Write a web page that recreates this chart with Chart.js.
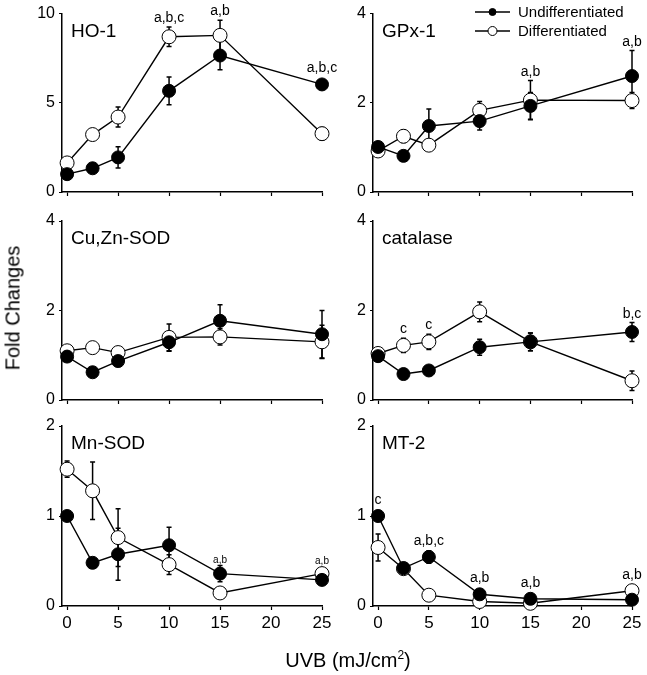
<!DOCTYPE html>
<html>
<head>
<meta charset="utf-8">
<script src="https://cdn.jsdelivr.net/npm/chart.js@4.4.0/dist/chart.umd.min.js"></script>
<style>
  body { margin: 0; background: #fff; width: 647px; height: 675px; position: relative; overflow: hidden;
         font-family: "Liberation Sans", Arial, sans-serif; }
  .pane { position: absolute; }
  #ylab { position: absolute; left: 13px; top: 308px; transform: translate(-50%, -50%) rotate(-90deg);
          font-size: 20px; white-space: nowrap; }
  #xlab { position: absolute; left: 348px; top: 660px; transform: translate(-50%, -50%);
          font-size: 20px; white-space: nowrap; }
  #xlab sup { font-size: 12px; }
</style>
</head>
<body>
<canvas id="c1" class="pane" width="345" height="215" style="left:0;top:0"></canvas>
<canvas id="c2" class="pane" width="317" height="215" style="left:330px;top:0"></canvas>
<canvas id="c3" class="pane" width="345" height="218" style="left:0;top:205px"></canvas>
<canvas id="c4" class="pane" width="317" height="218" style="left:330px;top:205px"></canvas>
<canvas id="c5" class="pane" width="345" height="265" style="left:0;top:410px"></canvas>
<canvas id="c6" class="pane" width="317" height="265" style="left:330px;top:410px"></canvas>
<div id="ylab">Fold Changes</div>
<div id="xlab">UVB (mJ/cm<sup>2</sup>)</div>
<script>
const doses = [0, 2.5, 5, 10, 15, 25];
const xTicks = [0, 5, 10, 15, 20, 25];

// HO-1
const ho1Und = [1.0, 1.33, 1.94, 5.67, 7.65, 6.03];
const ho1UndErr = [0.2, 0.25, 0.6, 0.78, 0.8, 0.25];
const ho1Dif = [1.63, 3.22, 4.2, 8.7, 8.78, 3.27];
const ho1DifErr = [0.1, 0.1, 0.56, 0.55, 0.85, 0.35];
const ho1Notes = ['', '', '', 'a,b,c', 'a,b', 'a,b,c'];

// GPx-1
const gpxUnd = [1.01, 0.81, 1.48, 1.59, 1.93, 2.6];
const gpxUndErr = [0.05, 0.04, 0.38, 0.2, 0.3, 0.57];
const gpxDif = [0.92, 1.25, 1.05, 1.83, 2.06, 2.05];
const gpxDifErr = [0.05, 0.14, 0.05, 0.2, 0.44, 0.18];
const gpxNotes = ['', '', '', '', 'a,b', 'a,b'];

// Cu,Zn-SOD
const cuUnd = [0.97, 0.62, 0.87, 1.29, 1.77, 1.47];
const cuUndErr = [0.05, 0.04, 0.05, 0.2, 0.36, 0.53];
const cuDif = [1.1, 1.17, 1.06, 1.4, 1.41, 1.3];
const cuDifErr = [0.05, 0.05, 0.05, 0.3, 0.18, 0.37];
const cuNotes = ['', '', '', '', '', ''];

// catalase
const catUnd = [0.98, 0.58, 0.66, 1.18, 1.3, 1.52];
const catUndErr = [0.05, 0.04, 0.04, 0.18, 0.2, 0.21];
const catDif = [1.04, 1.22, 1.3, 1.97, 1.3, 0.43];
const catDifErr = [0.1, 0.16, 0.17, 0.22, 0.2, 0.22];
const catNotes = ['', 'c', 'c', '', '', 'b,c'];

// Mn-SOD
const mnUnd = [1.0, 0.48, 0.575, 0.675, 0.36, 0.29];
const mnUndErr = [0.02, 0.05, 0.29, 0.2, 0.09, 0.03];
const mnDif = [1.52, 1.28, 0.76, 0.46, 0.145, 0.36];
const mnDifErr = [0.09, 0.32, 0.32, 0.11, 0.02, 0.03];
const mnNotes = ['', '', '', '', 'a,b', 'a,b'];

// MT-2
const mtUnd = [1.0, 0.42, 0.545, 0.13, 0.08, 0.07];
const mtUndErr = [0.06, 0.03, 0.07, 0.02, 0.02, 0.02];
const mtDif = [0.65, 0.415, 0.12, 0.05, 0.03, 0.17];
const mtDifErr = [0.15, 0.05, 0.02, 0.01, 0.01, 0.02];
const mtNotes = ['c', '', 'a,b,c', 'a,b', 'a,b', 'a,b'];

const FONT = '"Liberation Sans", Arial, sans-serif';
const pts = vals => vals.map((v, i) => ({ x: doses[i], y: v }));

// error bars, drawn under the lines and markers
const errorBars = {
  id: 'errorBars',
  beforeDatasetsDraw(chart) {
    const { ctx, scales: { x, y } } = chart;
    ctx.save();
    ctx.strokeStyle = '#000';
    ctx.lineWidth = 1.5;
    chart.data.datasets.forEach(ds => {
      ds.errors.forEach((e, i) => {
        const px = x.getPixelForValue(doses[i]);
        const top = y.getPixelForValue(ds.data[i].y + e);
        const bot = y.getPixelForValue(Math.max(0, ds.data[i].y - e));
        ctx.beginPath();
        ctx.moveTo(px, top); ctx.lineTo(px, bot);
        ctx.moveTo(px - 2.5, top); ctx.lineTo(px + 2.5, top);
        ctx.moveTo(px - 2.5, bot); ctx.lineTo(px + 2.5, bot);
        ctx.stroke();
      });
    });
    ctx.restore();
  }
};

// panel name, significance letters, legend
const decorations = {
  id: 'decorations',
  afterDatasetsDraw(chart, args, opts) {
    const { ctx, chartArea, scales: { x, y } } = chart;
    ctx.save();
    ctx.fillStyle = '#000';
    ctx.textBaseline = 'alphabetic';
    ctx.font = '19px ' + FONT;
    ctx.textAlign = 'left';
    ctx.fillText(opts.name, chartArea.left + 9, chartArea.top + 23);

    ctx.font = opts.noteSize + 'px ' + FONT;
    ctx.textAlign = 'center';
    opts.notes.forEach((n, i) => {
      if (!n) return;
      let top = Infinity;
      chart.data.datasets.forEach(ds => {
        const v = ds.data[i].y;
        top = Math.min(top, y.getPixelForValue(v + ds.errors[i]), y.getPixelForValue(v) - 7);
      });
      ctx.fillText(n, x.getPixelForValue(doses[i]), top - opts.noteGap);
    });

    if (opts.legend) {
      const lx = chartArea.left + 102, names = ['Undifferentiated', 'Differentiated'];
      ctx.font = '15px ' + FONT;
      ctx.textAlign = 'left';
      ctx.textBaseline = 'middle';
      names.forEach((t, k) => {
        const ly = 12 + k * 19;
        ctx.beginPath();
        ctx.lineWidth = 1.3;
        ctx.strokeStyle = '#000';
        ctx.moveTo(lx, ly); ctx.lineTo(lx + 35, ly);
        ctx.stroke();
        ctx.beginPath();
        ctx.arc(lx + 17.5, ly, k === 0 ? 3.5 : 4.5, 0, Math.PI * 2);
        ctx.fillStyle = k === 0 ? '#000' : '#fff';
        ctx.fill();
        ctx.lineWidth = 1;
        ctx.stroke();
        ctx.fillStyle = '#000';
        ctx.fillText(t, lx + 43, ly + 1);
      });
    }
    ctx.restore();
  }
};

function panel(id, o) {
  return new Chart(document.getElementById(id), {
    type: 'line',
    data: {
      datasets: [
        { label: 'Undifferentiated', data: pts(o.und), errors: o.undErr,
          borderColor: '#000', borderWidth: 1.4, pointRadius: 6.5, pointHoverRadius: 6.5,
          pointBackgroundColor: '#000', pointBorderColor: '#000', pointBorderWidth: 1, clip: false },
        { label: 'Differentiated', data: pts(o.dif), errors: o.difErr,
          borderColor: '#000', borderWidth: 1.4, pointRadius: 7, pointHoverRadius: 7,
          pointBackgroundColor: '#fff', pointBorderColor: '#000', pointBorderWidth: 1, clip: false }
      ]
    },
    options: {
      responsive: false,
      animation: false,
      layout: { padding: o.pad },
      plugins: {
        legend: { display: false },
        tooltip: { enabled: false },
        decorations: { name: o.name, notes: o.notes, noteSize: o.noteSize || 14,
                       noteGap: o.noteGap || 5, legend: !!o.legend }
      },
      scales: {
        x: {
          type: 'linear', min: -0.5, max: 25,
          afterBuildTicks: s => { s.ticks = xTicks.map(v => ({ value: v })); },
          afterFit: s => { s.height = o.xH; },
          border: { color: '#000', width: 1.5 },
          grid: { drawOnChartArea: false, drawTicks: true, tickLength: 4, color: '#000', tickWidth: 1.2 },
          ticks: { display: o.xLabels, color: '#000', font: { size: 17, family: FONT }, padding: 3, maxRotation: 0 }
        },
        y: {
          min: 0, max: o.yMax,
          afterBuildTicks: s => { s.ticks = o.yTicks.map(v => ({ value: v })); },
          afterFit: s => { s.width = 30; },
          border: { color: '#000', width: 1.5 },
          grid: { drawOnChartArea: false, drawTicks: true, tickLength: 3, color: '#000', tickWidth: 1.2 },
          ticks: { color: '#000', font: { size: 16, family: FONT }, padding: 4 }
        }
      }
    },
    plugins: [errorBars, decorations]
  });
}

const padL = { left: 32, right: 23 }, padR = { left: 13, right: 15 };

panel('c1', { name: 'HO-1', und: ho1Und, undErr: ho1UndErr, dif: ho1Dif, difErr: ho1DifErr, notes: ho1Notes,
  yMax: 10, yTicks: [0, 5, 10], pad: { ...padL, top: 12, bottom: 0 }, xH: 23, xLabels: false });
panel('c2', { name: 'GPx-1', und: gpxUnd, undErr: gpxUndErr, dif: gpxDif, difErr: gpxDifErr, notes: gpxNotes,
  yMax: 4, yTicks: [0, 2, 4], pad: { ...padR, top: 12, bottom: 0 }, xH: 23, xLabels: false, legend: true });
panel('c3', { name: 'Cu,Zn-SOD', und: cuUnd, undErr: cuUndErr, dif: cuDif, difErr: cuDifErr, notes: cuNotes,
  yMax: 4, yTicks: [0, 2, 4], pad: { ...padL, top: 16, bottom: 0 }, xH: 23, xLabels: false });
panel('c4', { name: 'catalase', und: catUnd, undErr: catUndErr, dif: catDif, difErr: catDifErr, notes: catNotes,
  yMax: 4, yTicks: [0, 2, 4], pad: { ...padR, top: 16, bottom: 0 }, xH: 23, xLabels: false });
panel('c5', { name: 'Mn-SOD', und: mnUnd, undErr: mnUndErr, dif: mnDif, difErr: mnDifErr, notes: mnNotes,
  yMax: 2, yTicks: [0, 1, 2], pad: { ...padL, top: 16, bottom: 0 }, xH: 69, xLabels: true, noteSize: 10, noteGap: 3 });
panel('c6', { name: 'MT-2', und: mtUnd, undErr: mtUndErr, dif: mtDif, difErr: mtDifErr, notes: mtNotes,
  yMax: 2, yTicks: [0, 1, 2], pad: { ...padR, top: 16, bottom: 0 }, xH: 69, xLabels: true });
</script>
</body>
</html>
